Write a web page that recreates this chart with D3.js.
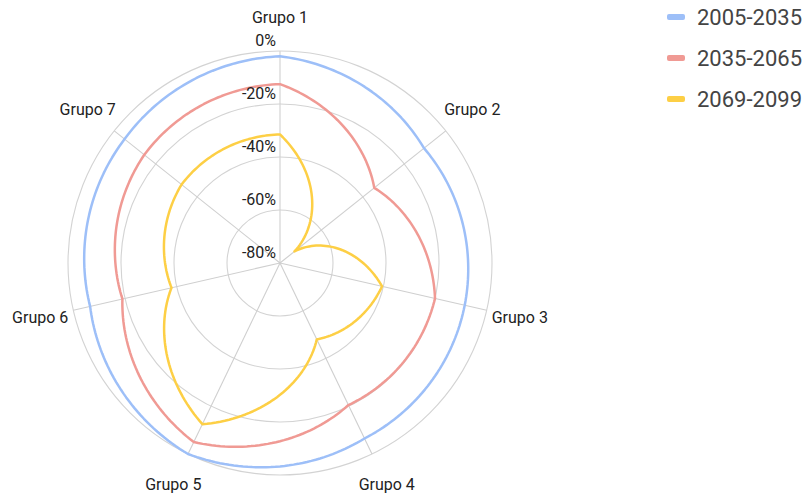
<!DOCTYPE html>
<html>
<head>
<meta charset="utf-8">
<script src="https://cdn.jsdelivr.net/npm/d3@7"></script>
<style>
  body { margin: 0; background: #fff; }
  text { font-family: Roboto, "Noto Sans", sans-serif; }
</style>
</head>
<body>
<div id="chart"></div>
<script>
const groups = ["Grupo 1", "Grupo 2", "Grupo 3", "Grupo 4", "Grupo 5", "Grupo 6", "Grupo 7"];
const seriesNames = ["2005-2035", "2035-2065", "2069-2099"];
const serie2005 = [-2, -10.5, -8.5, -6.5, 0, -6.5, -5];
const serie2035 = [-12.5, -34.5, -20, -20.5, -5, -19, -14.5];
const serie2069 = [-31.5, -73, -40.5, -48, -12.5, -38, -32.5];
const ticks = [0, -20, -40, -60, -80];
const tickLabels = ["0%", "-20%", "-40%", "-60%", "-80%"];

const colors = ["#9dbff8", "#f09a94", "#fdcf45"];
const allSeries = [serie2005, serie2035, serie2069];

const w = 809;
const h = 497;
const cx = 280;
const cy = 263;
const R = 212;

const svg = d3
  .select("#chart")
  .append("svg")
  .attr("width", w)
  .attr("height", h);

const angle = d3
  .scaleBand()
  .domain(groups)
  .range([0, 2 * Math.PI])
  .align(0)
  .paddingInner(0)
  .paddingOuter(0);

const r = d3.scaleLinear().domain([-80, 0]).range([0, R]);

const g = svg.append("g").attr("transform", `translate(${cx},${cy})`);

// rings
g.selectAll("circle.ring")
  .data(ticks.filter((t) => r(t) > 0))
  .enter()
  .append("circle")
  .attr("class", "ring")
  .attr("r", (d) => r(d))
  .attr("fill", "none")
  .attr("stroke", "#d3d3d3")
  .attr("stroke-width", 1.1);

// spokes
g.selectAll("line.spoke")
  .data(groups)
  .enter()
  .append("line")
  .attr("x1", 0)
  .attr("y1", 0)
  .attr("x2", (d) => R * Math.sin(angle(d)))
  .attr("y2", (d) => -R * Math.cos(angle(d)))
  .attr("stroke", "#cfcfcf")
  .attr("stroke-width", 1.1);

// between two groups the radius changes linearly with the angle (polar segments)
function spiralPoints(values) {
  const step = angle.bandwidth();
  const pts = [];
  values.forEach((v, i) => {
    const next = values[(i + 1) % values.length];
    const a0 = angle(groups[i]);
    for (let k = 0; k < 40; k++) {
      const t = k / 40;
      pts.push([a0 + t * step, r(v + t * (next - v))]);
    }
  });
  return pts;
}

const radial = d3.lineRadial().curve(d3.curveLinearClosed);

g.selectAll("path.serie")
  .data(allSeries)
  .enter()
  .append("path")
  .attr("class", "serie")
  .attr("d", (d) => radial(spiralPoints(d)))
  .attr("fill", "none")
  .attr("stroke", (d, i) => colors[i])
  .attr("stroke-width", 2.5)
  .attr("stroke-linejoin", "round");

// tick labels
g.selectAll("text.tick")
  .data(ticks)
  .enter()
  .append("text")
  .attr("class", "tick")
  .attr("x", -4)
  .attr("y", (d) => -r(d) - 11)
  .attr("dy", "0.35em")
  .attr("text-anchor", "end")
  .attr("font-size", 16)
  .attr("fill", "#222")
  .text((d, i) => tickLabels[i]);

// group labels
g.selectAll("text.group")
  .data(groups)
  .enter()
  .append("text")
  .attr("class", "group")
  .attr("x", (d) => (R + 34) * Math.sin(angle(d)))
  .attr("y", (d) => -(R + 34) * Math.cos(angle(d)))
  .attr("dy", "0.35em")
  .attr("text-anchor", "middle")
  .attr("font-size", 16)
  .attr("fill", "#222")
  .text((d) => d);

// legend
const legend = svg
  .selectAll("g.legend")
  .data(seriesNames)
  .enter()
  .append("g")
  .attr("class", "legend")
  .attr("transform", (d, i) => `translate(667,${17 + i * 41})`);

legend
  .append("rect")
  .attr("x", 0)
  .attr("y", -3)
  .attr("width", 18)
  .attr("height", 6)
  .attr("rx", 2)
  .attr("fill", (d, i) => colors[i]);

legend
  .append("text")
  .attr("x", 30)
  .attr("dy", "0.35em")
  .attr("font-size", 22)
  .attr("fill", "#444")
  .text((d) => d);
</script>
</body>
</html>
